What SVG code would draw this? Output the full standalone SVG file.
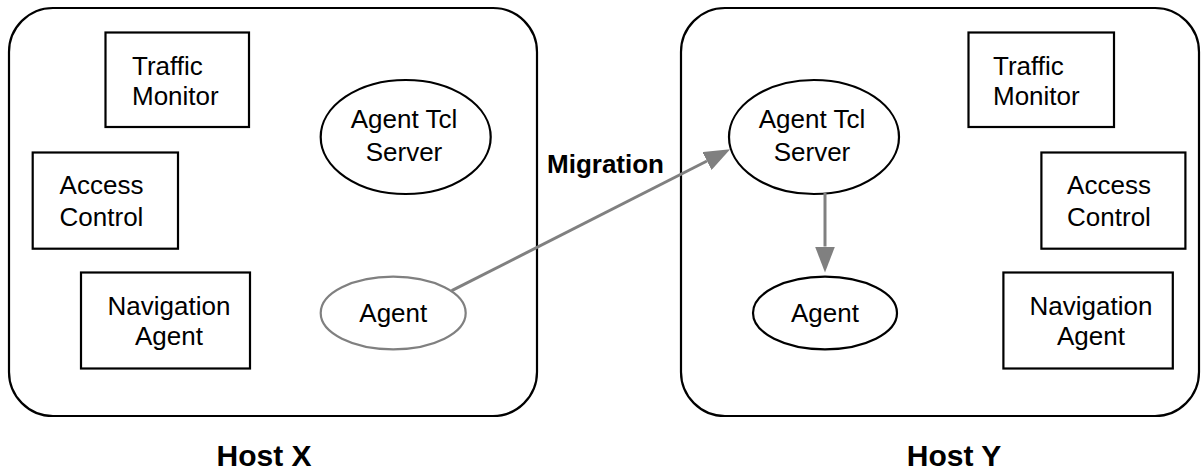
<svg xmlns="http://www.w3.org/2000/svg" width="1201" height="470" viewBox="0 0 1201 470">
<defs>
<style>
.host{fill:#fff;stroke:#000;stroke-width:2.2}
.box{fill:#fff;stroke:#000;stroke-width:2.2}
.ell{fill:#fff;stroke:#000;stroke-width:2.2}
.ellg{fill:#fff;stroke:#808080;stroke-width:2.2}
.t{font-family:"Liberation Sans",Arial,sans-serif;font-size:26px;fill:#000;text-anchor:middle}
.tl{text-anchor:start}
.b{font-family:"Liberation Sans",Arial,sans-serif;font-weight:bold;fill:#000}
.conn{stroke:#808080;stroke-width:3;fill:none}
</style>
<marker id="ah" markerUnits="userSpaceOnUse" markerWidth="26" markerHeight="20" refX="0" refY="10" orient="auto" viewBox="0 0 26 20">
<path d="M0,0 L26,10 L0,20 z" fill="#808080"/>
</marker>
</defs>
<g id="hostX">
<rect class="host" x="9" y="8" width="528" height="408" rx="44" ry="44"/>
<text class="b" x="264" y="466" font-size="30" text-anchor="middle">Host X</text>
</g>
<g id="hostY">
<rect class="host" x="681" y="8" width="518" height="408" rx="44" ry="44"/>
<text class="b" x="954" y="466" font-size="30" text-anchor="middle">Host Y</text>
</g>
<g id="trafficX">
<rect class="box" x="105.5" y="32.5" width="143.5" height="94.5"/>
<text class="t tl" x="132" y="75">Traffic</text>
<text class="t tl" x="132" y="104.5">Monitor</text>
</g>
<g id="accessX">
<rect class="box" x="32.7" y="152.5" width="145.3" height="96.2"/>
<text class="t" x="101.5" y="194.3">Access</text>
<text class="t" x="101.5" y="225.7">Control</text>
</g>
<g id="navX">
<rect class="box" x="81" y="272.5" width="169" height="96"/>
<text class="t" x="169" y="315">Navigation</text>
<text class="t" x="169" y="345">Agent</text>
</g>
<g id="serverX">
<ellipse class="ell" cx="405.7" cy="137" rx="85" ry="57"/>
<text class="t" x="404" y="127.7">Agent Tcl</text>
<text class="t" x="404" y="161">Server</text>
</g>
<g id="agentX">
<ellipse class="ellg" cx="393.2" cy="313" rx="72.5" ry="36.3"/>
<text class="t" x="393.3" y="321.7">Agent</text>
</g>
<g id="trafficY">
<rect class="box" x="968.5" y="32.5" width="145.5" height="94.5"/>
<text class="t tl" x="993" y="75">Traffic</text>
<text class="t tl" x="993" y="104.5">Monitor</text>
</g>
<g id="accessY">
<rect class="box" x="1041.4" y="152.5" width="144" height="96.2"/>
<text class="t" x="1109" y="194.3">Access</text>
<text class="t" x="1109" y="225.7">Control</text>
</g>
<g id="navY">
<rect class="box" x="1003.4" y="272.5" width="169.4" height="96"/>
<text class="t" x="1091" y="315">Navigation</text>
<text class="t" x="1091" y="345">Agent</text>
</g>
<g id="serverY">
<ellipse class="ell" cx="814" cy="137" rx="85" ry="57"/>
<text class="t" x="812" y="127.7">Agent Tcl</text>
<text class="t" x="812" y="161">Server</text>
</g>
<g id="agentY">
<ellipse class="ell" cx="825" cy="313" rx="72" ry="36.3"/>
<text class="t" x="825" y="321.7">Agent</text>
</g>
<g id="connectors">
<line class="conn" x1="451.7" y1="290.7" x2="707" y2="161" marker-end="url(#ah)"/>
<line class="conn" x1="825" y1="193" x2="825" y2="246.5" marker-end="url(#ah)"/>
<text class="b" x="664" y="173" font-size="26" text-anchor="end">Migration</text>
</g>
</svg>
